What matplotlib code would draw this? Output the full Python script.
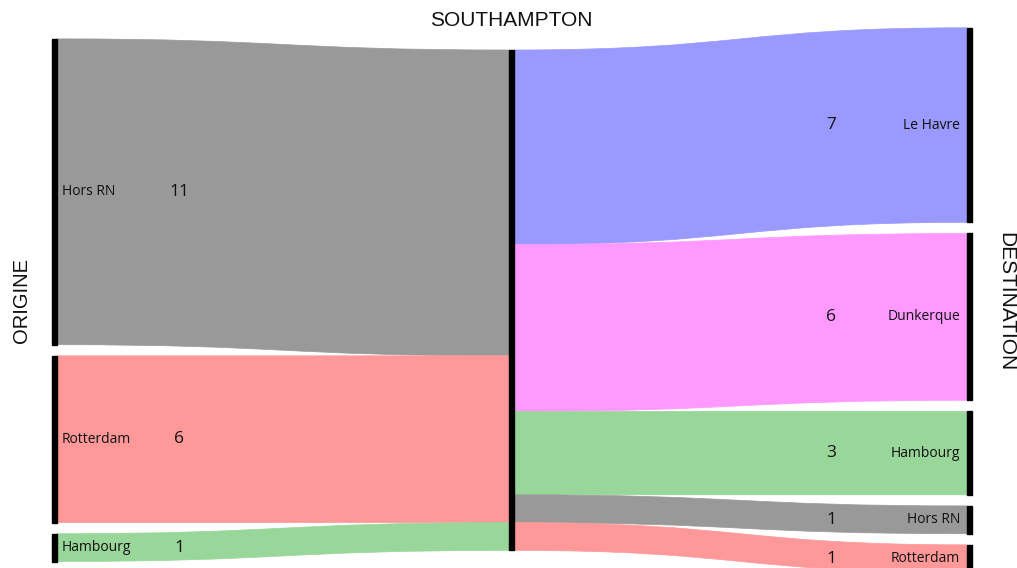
import matplotlib
matplotlib.use('Agg')
import matplotlib.pyplot as plt
from matplotlib.path import Path
from matplotlib.patches import PathPatch, Rectangle

# data
hub = 'SOUTHAMPTON'
origins = ['Hors RN', 'Rotterdam', 'Hambourg']
origin_values = [11, 6, 1]
destinations = ['Le Havre', 'Dunkerque', 'Hambourg', 'Hors RN', 'Rotterdam']
dest_values = [7, 6, 3, 1, 1]

colors = {'Hors RN': '#999999', 'Rotterdam': '#ff9999', 'Hambourg': '#99d699',
          'Le Havre': '#9999ff', 'Dunkerque': '#ff99ff'}

# layout (x in pixels, y in flow units)
px_per_unit = 27.8
gap = 0.4
x_left, x_mid, x_right = 52, 509, 967
bar_w = 5

fig = plt.figure(figsize=(10.17, 5.68), dpi=100)
ax = fig.add_axes([0, 0, 1, 1])
ax.set_xlim(0, 1017)
ax.set_ylim((568 - 50) / px_per_unit, -50 / px_per_unit)
ax.axis('off')

label_font = 'Open Sans'
title_font = 'Liberation Sans'


def stack(values):
    total = sum(values) + gap * (len(values) - 1)
    start = sum(values) / 2.0 - total / 2.0
    spans = []
    for v in values:
        spans.append((start, start + v))
        start += v + gap
    return spans


def flow(x0, x1, a0, a1, b0, b1, color):
    xm = (x0 + x1) / 2.0
    verts = [(x0, a0), (xm, a0), (xm, b0), (x1, b0),
             (x1, b1),
             (xm, b1), (xm, a1), (x0, a1),
             (x0, a0)]
    codes = [Path.MOVETO, Path.CURVE4, Path.CURVE4, Path.CURVE4,
             Path.LINETO,
             Path.CURVE4, Path.CURVE4, Path.CURVE4,
             Path.CLOSEPOLY]
    ax.add_patch(PathPatch(Path(verts, codes), facecolor=color, edgecolor=color,
                           lw=0.5, zorder=1))


total = sum(origin_values)
left_spans = stack(origin_values)
right_spans = stack(dest_values)

# left -> hub
pos = 0
for name, v, (s0, s1) in zip(origins, origin_values, left_spans):
    flow(x_left + bar_w, x_mid, s0, s1, pos, pos + v, colors[name])
    ax.add_patch(Rectangle((x_left, s0), bar_w, v, color='black', zorder=2))
    mid = (s0 + s1) / 2.0
    ax.text(62, mid, name, ha='left', va='center', fontsize=10,
            family=label_font, color='#111111')
    ax.text(179, mid, str(v), ha='center', va='center', fontsize=12.5,
            family=label_font, color='#111111')
    pos += v

# hub -> right
pos = 0
for name, v, (s0, s1) in zip(destinations, dest_values, right_spans):
    flow(x_mid + bar_w, x_right, pos, pos + v, s0, s1, colors[name])
    ax.add_patch(Rectangle((x_right, s0), bar_w, v, color='black', zorder=2))
    mid = (s0 + s1) / 2.0
    ax.text(960, mid, name, ha='right', va='center', fontsize=10,
            family=label_font, color='#111111')
    ax.text(831, mid, str(v), ha='center', va='center', fontsize=12.5,
            family=label_font, color='#111111')
    pos += v

# hub bar
ax.add_patch(Rectangle((x_mid, 0), bar_w, total, color='black', zorder=2))

ax.text(511, -30 / px_per_unit, hub, ha='center', va='center', fontsize=15,
        family=title_font, color='#111111')
ax.text(22, 250 / px_per_unit, 'ORIGINE', ha='center', va='center', fontsize=14.5,
        rotation=90, family=title_font, color='#111111')
ax.text(1006, 252 / px_per_unit, 'DESTINATION', ha='center', va='center',
        fontsize=15, rotation=270, family=title_font, color='#111111')

plt.savefig('out.png', dpi=100)
